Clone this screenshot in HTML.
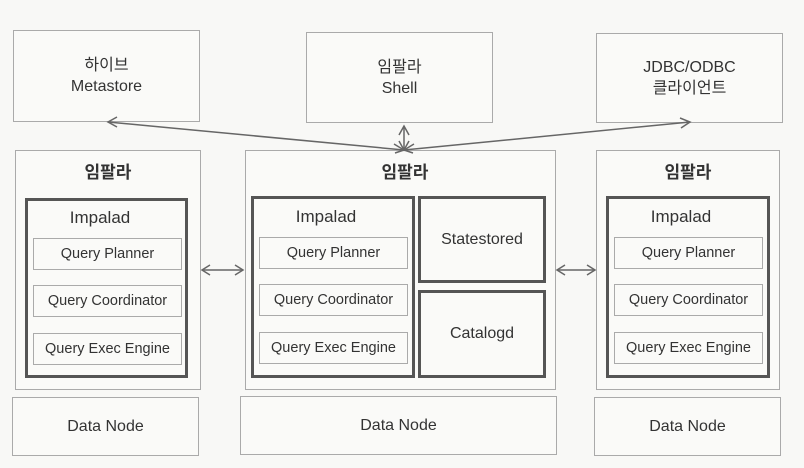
<!DOCTYPE html>
<html><head><meta charset="utf-8"><style>
body{margin:0;width:804px;height:468px;background:#f8f8f6;font-family:"Liberation Sans","Noto Sans CJK KR",sans-serif;color:#333;overflow:hidden}
.b{position:absolute;box-sizing:border-box;border:1px solid #aaa;background:#fafaf8;display:flex;align-items:center;justify-content:center;text-align:center}
.t{position:absolute;border:3px solid #555;box-sizing:border-box}
.s{position:absolute;box-sizing:border-box;border:1px solid #aaa;display:flex;align-items:center;justify-content:center;font-size:14.5px;white-space:nowrap}
.l{position:absolute;font-size:17px;text-align:center}
.k{font-weight:bold;font-size:17px}
</style></head><body>
<div class="b" style="left:13px;top:30px;width:187px;height:92px;font-size:16px;line-height:21px">하이브<br>Metastore</div>
<div class="b" style="left:306px;top:32px;width:187px;height:91px;font-size:16px;line-height:21px">임팔라<br>Shell</div>
<div class="b" style="left:596px;top:33px;width:187px;height:90px;font-size:16px;line-height:21px">JDBC/ODBC<br>클라이언트</div>

<div class="b" style="left:15px;top:150px;width:186px;height:240px"></div>
<div class="b" style="left:245px;top:150px;width:311px;height:240px"></div>
<div class="b" style="left:596px;top:150px;width:184px;height:240px"></div>

<div class="l k" style="left:15px;top:158px;width:186px">임팔라</div>
<div class="l k" style="left:340px;top:158px;width:130px">임팔라</div>
<div class="l k" style="left:596px;top:158px;width:184px">임팔라</div>

<div class="t" style="left:25px;top:198px;width:163px;height:180px"></div>
<div class="l" style="left:25px;top:208px;width:150px">Impalad</div>
<div class="s" style="left:33px;top:238px;width:149px;height:32px">Query Planner</div>
<div class="s" style="left:33px;top:285px;width:149px;height:32px">Query Coordinator</div>
<div class="s" style="left:33px;top:333px;width:149px;height:32px">Query Exec Engine</div>

<div class="t" style="left:251px;top:196px;width:164px;height:182px"></div>
<div class="l" style="left:251px;top:207px;width:150px">Impalad</div>
<div class="s" style="left:259px;top:237px;width:149px;height:32px">Query Planner</div>
<div class="s" style="left:259px;top:284px;width:149px;height:32px">Query Coordinator</div>
<div class="s" style="left:259px;top:332px;width:149px;height:32px">Query Exec Engine</div>

<div class="t" style="left:418px;top:196px;width:128px;height:87px;display:flex;align-items:center;justify-content:center;font-size:16px">Statestored</div>
<div class="t" style="left:418px;top:290px;width:128px;height:88px;display:flex;align-items:center;justify-content:center;font-size:16px">Catalogd</div>

<div class="t" style="left:606px;top:196px;width:164px;height:182px"></div>
<div class="l" style="left:606px;top:207px;width:150px">Impalad</div>
<div class="s" style="left:614px;top:237px;width:149px;height:32px">Query Planner</div>
<div class="s" style="left:614px;top:284px;width:149px;height:32px">Query Coordinator</div>
<div class="s" style="left:614px;top:332px;width:149px;height:32px">Query Exec Engine</div>

<div class="b" style="left:12px;top:397px;width:187px;height:59px;font-size:16px">Data Node</div>
<div class="b" style="left:240px;top:396px;width:317px;height:59px;font-size:16px">Data Node</div>
<div class="b" style="left:594px;top:397px;width:187px;height:59px;font-size:16px">Data Node</div>

<svg width="804" height="468" style="position:absolute;left:0;top:0" fill="none" stroke="#666" stroke-width="1.5">
<line x1="108" y1="122" x2="404" y2="150"/><polyline points="117,117 108,122 117,127"/>
<polyline points="394,144 404,150 395,153"/>
<line x1="404" y1="126" x2="404" y2="150"/><polyline points="399,135 404,126 409,135"/><polyline points="399,141 404,150 409,141"/>
<line x1="404" y1="150" x2="690" y2="122"/><polyline points="680,118 690,122 681,128"/>
<polyline points="414,144 404,150 413,153"/>
<line x1="202" y1="270" x2="243" y2="270"/><polyline points="210,265 202,270 210,275"/><polyline points="235,265 243,270 235,275"/>
<line x1="557" y1="270" x2="595" y2="270"/><polyline points="565,265 557,270 565,275"/><polyline points="587,265 595,270 587,275"/>
</svg>
</body></html>
